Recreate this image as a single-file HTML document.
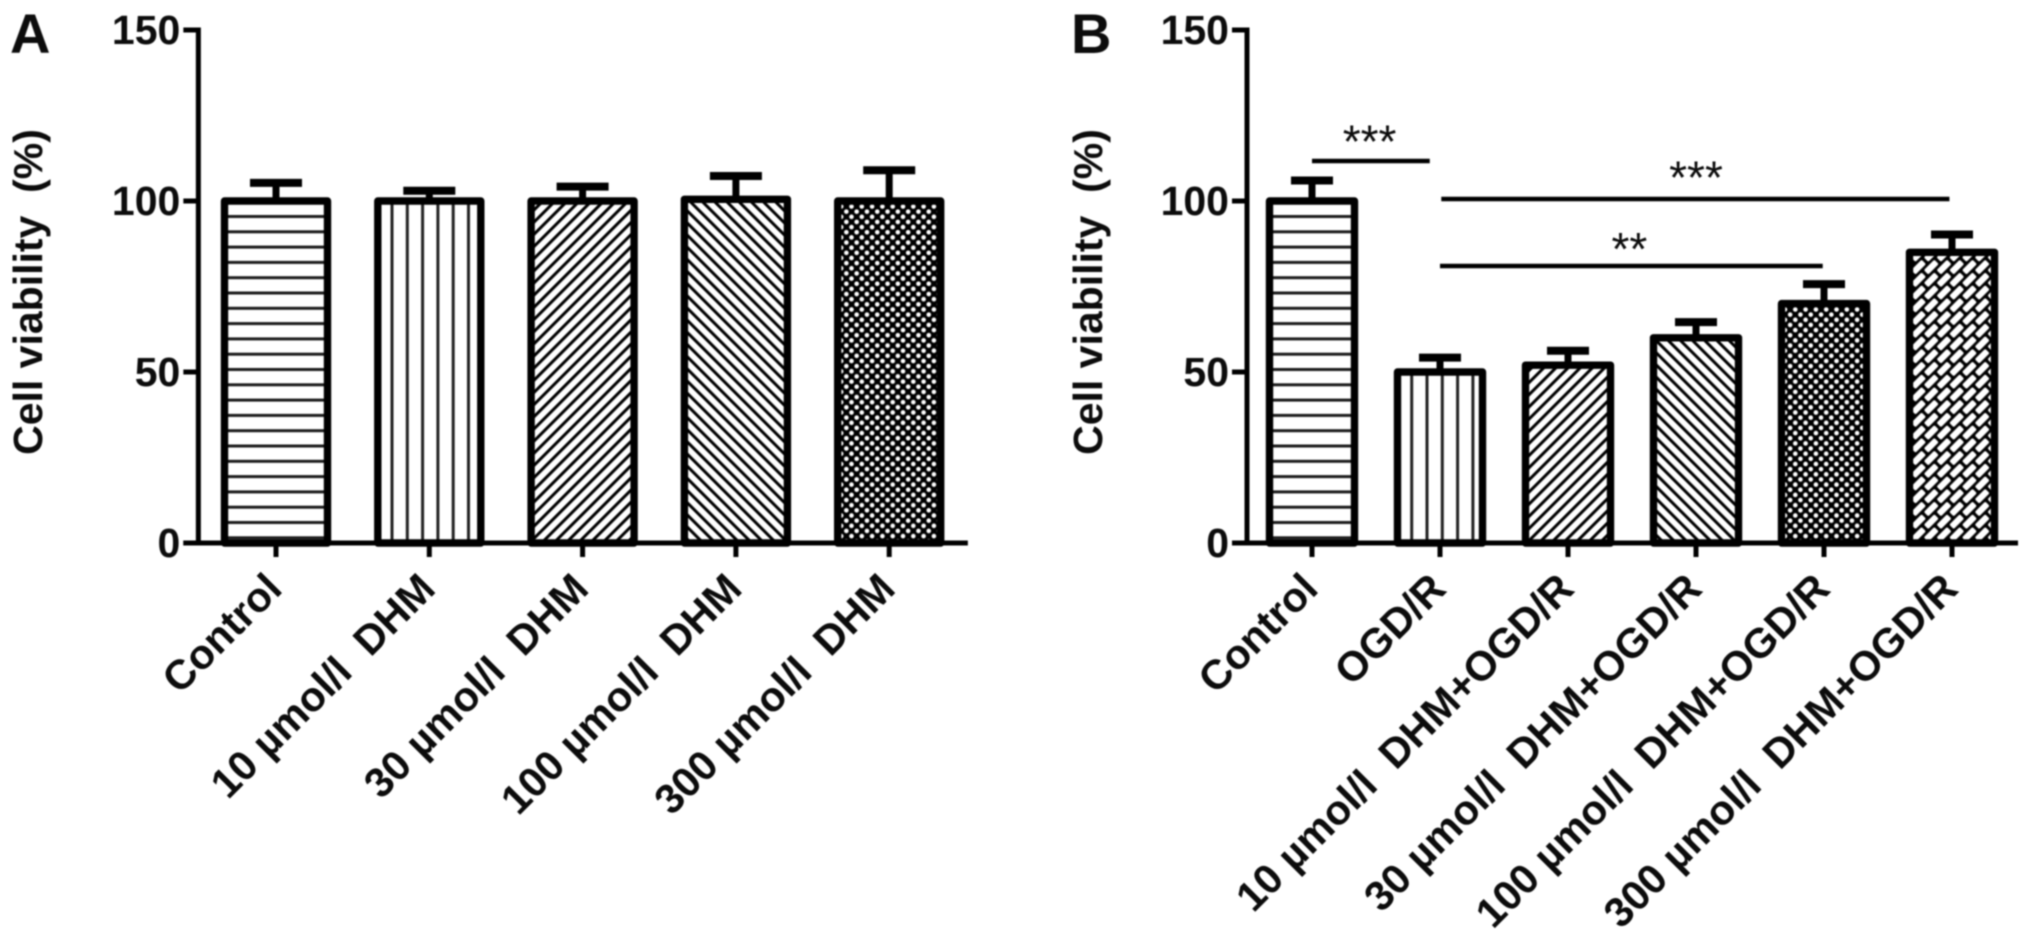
<!DOCTYPE html>
<html lang="en">
<head>
<meta charset="utf-8">
<title>Cell viability charts</title>
<style>
html,body{margin:0;padding:0;background:#fff;width:2031px;height:951px;overflow:hidden}
svg{display:block;filter:blur(0.7px)}
text{font-family:"Liberation Sans",sans-serif;fill:#0c0c0c;white-space:pre}
.bold{font-weight:bold}
</style>
</head>
<body>
<svg id="chart" xmlns="http://www.w3.org/2000/svg" width="2031" height="951" viewBox="0 0 2031 951">
<defs id="defs"></defs>
<rect width="2031" height="951" fill="#fff"></rect>
<text class="bold" x="10" y="53" font-size="56">A</text>
<text class="bold" x="1071" y="53" font-size="56">B</text>
</svg>
<script>
const yTicks = [0, 50, 100, 150];
const yTitle = "Cell viability  (%)";
const categoriesA = ["Control", "10 µmol/l  DHM", "30 µmol/l  DHM", "100 µmol/l  DHM", "300 µmol/l  DHM"];
const meansA = [100, 100, 100, 100.5, 100];
const errorsA = [5.3, 3, 4.2, 6.8, 9];
const patternsA = ["horizontal", "vertical", "forward", "backward", "dots"];
const categoriesB = ["Control", "OGD/R", "10 µmol/l  DHM+OGD/R", "30 µmol/l  DHM+OGD/R", "100 µmol/l  DHM+OGD/R", "300 µmol/l  DHM+OGD/R"];
const meansB = [100, 50, 52, 60, 70, 85];
const errorsB = [6, 4.2, 4.2, 4.6, 5.7, 5.2];
const patternsB = ["horizontal", "vertical", "forward", "backward", "dots", "bricks"];
const sigLabels = ["***", "***", "**"];
const sigFrom = [0, 1.01, 1];
const sigTo = [0.92, 4.98, 3.99];
const sigLevel = [111.7, 100.6, 81];
const sigLabelAt = [0.45, 3, 2.48];
const sigLabelLift = [1, 1.6, 0.3];

const NS = "http://www.w3.org/2000/svg";
const svg = document.getElementById("chart");
const defs = document.getElementById("defs");

function y(v){ return 543 - 3.42 * v; }

function node(parent, tag, attrs){
  const el = document.createElementNS(NS, tag);
  for (const k in attrs) el.setAttribute(k, attrs[k]);
  parent.appendChild(el);
  return el;
}

function makePattern(kind, id, left){
  const size = {horizontal:[20,15.3], vertical:[15.3,20], forward:[8.6,8.6], backward:[8.6,8.6], dots:[10.3,10.3], bricks:[18,18]}[kind];
  let tf = "";
  if (kind === "horizontal") tf = "translate(0,0.8)";
  if (kind === "vertical") tf = "translate(" + (left + 17.7) + ",0)";
  if (kind === "forward") tf = "rotate(45)";
  if (kind === "backward") tf = "rotate(-45)";
  if (kind === "dots") tf = "translate(" + (left + 7) + ",0.5)";
  if (kind === "bricks") tf = "translate(" + (left + 3) + ",3) rotate(-45)";
  const p = node(defs, "pattern", {id:id, patternUnits:"userSpaceOnUse", width:size[0], height:size[1], patternTransform:tf});
  node(p, "rect", {width:size[0], height:size[1], fill:(kind === "dots" || kind === "bricks") ? "#000" : "#fff"});
  if (kind === "horizontal") node(p, "rect", {x:0, y:0, width:20, height:3, fill:"#1c1c1c"});
  if (kind === "vertical") {
    node(p, "rect", {x:0, y:0, width:1.5, height:20, fill:"#222"});
    node(p, "rect", {x:13.8, y:0, width:1.5, height:20, fill:"#222"});
  }
  if (kind === "forward" || kind === "backward") node(p, "rect", {x:0, y:0, width:3, height:8.6, fill:"#000"});
  if (kind === "dots") {
    node(p, "circle", {cx:0, cy:0, r:2.3, fill:"#fff"});
    node(p, "circle", {cx:10.3, cy:0, r:2.3, fill:"#fff"});
    node(p, "circle", {cx:0, cy:10.3, r:2.3, fill:"#fff"});
    node(p, "circle", {cx:10.3, cy:10.3, r:2.3, fill:"#fff"});
    node(p, "circle", {cx:5.15, cy:5.15, r:2.3, fill:"#fff"});
  }
  if (kind === "bricks") {
    node(p, "rect", {x:1.6, y:1.4, width:14.8, height:6.2, rx:1.5, fill:"#fff"});
    node(p, "rect", {x:10.6, y:10.4, width:14.8, height:6.2, rx:1.5, fill:"#fff"});
    node(p, "rect", {x:-7.4, y:10.4, width:14.8, height:6.2, rx:1.5, fill:"#fff"});
  }
}

function drawPanel(cfg){
  const x = function(i){ return cfg.first + cfg.band * i; };
  const axisX = cfg.first - cfg.band / 2 - 1;
  const right = x(cfg.categories.length - 1) + cfg.band / 2;

  const group = node(svg, "g", {});
  
  

  cfg.categories.forEach(function(cat, i){
    const id = "pat-" + cfg.key + "-" + i;
    const cx = x(i), half = cfg.barWidth / 2;
    makePattern(cfg.patterns[i], id, cx - half - 3.5);
    const capY = y(cfg.means[i] + cfg.errors[i]);
    const stem = node(group, "line", {x1:cx, x2:cx, y1:y(cfg.means[i]), y2:capY, stroke:"#000", "stroke-width":7});
    
    
    const cap = node(group, "line", {x1:cx - cfg.capWidth / 2, x2:cx + cfg.capWidth / 2, y1:capY, y2:capY, stroke:"#000", "stroke-width":8});
    
    
    const bar = node(group, "path", {
      d:"M" + (cx - half) + " 543V" + y(cfg.means[i]) + "H" + (cx + half) + "V543Z",
      fill:"url(#" + id + ")", stroke:"#000", "stroke-width":7.4, "stroke-linejoin":"round"
    });
    
    
    const tick = node(group, "line", {x1:cx, x2:cx, y1:543, y2:557, stroke:"#000", "stroke-width":5});
    
    
    const label = node(group, "text", {
      "class":"bold", "font-size":cfg.labelSize, "text-anchor":"end",
      transform:"translate(" + (cx + 8) + " 591) rotate(-45)"
    });
    
    
    label.textContent = cat;
  });

  const yAxis = node(group, "line", {x1:axisX, x2:axisX, y1:y(150) - 2.5, y2:545.5, stroke:"#000", "stroke-width":5});
  
  
  const xAxis = node(group, "line", {x1:axisX - 15, x2:right + 2, y1:543, y2:543, stroke:"#000", "stroke-width":5});
  
  

  yTicks.forEach(function(t){
    const tk = node(group, "line", {x1:axisX - 15, x2:axisX, y1:y(t), y2:y(t), stroke:"#000", "stroke-width":5});
    
    
    const lb = node(group, "text", {"class":"bold", "font-size":41, "text-anchor":"end", x:axisX - 18, y:y(t) + 14});
    
    
    lb.textContent = t;
  });

  const title = node(group, "text", {
    "class":"bold", "font-size":41, "text-anchor":"middle",
    transform:"translate(" + cfg.titleX + " 292) rotate(-90)"
  });
  
  
  title.textContent = yTitle;

  return x;
}

drawPanel({key:"a", first:276, band:153.3, barWidth:103, capWidth:52, labelSize:41.5, titleX:42,
  categories:categoriesA, means:meansA, errors:errorsA, patterns:patternsA});

const xB = drawPanel({key:"b", first:1312, band:128, barWidth:85, capWidth:42, labelSize:41.5, titleX:1102,
  categories:categoriesB, means:meansB, errors:errorsB, patterns:patternsB});

sigLabels.forEach(function(s, i){
  const line = node(svg, "line", {x1:xB(sigFrom[i]), x2:xB(sigTo[i]), y1:y(sigLevel[i]), y2:y(sigLevel[i]), stroke:"#000", "stroke-width":4.5});
  
  
  const t = node(svg, "text", {x:xB(sigLabelAt[i]), y:y(sigLevel[i] + sigLabelLift[i]), "font-size":46, "text-anchor":"middle"});
  
  
  t.textContent = s;
});
</script>
</body>
</html>
